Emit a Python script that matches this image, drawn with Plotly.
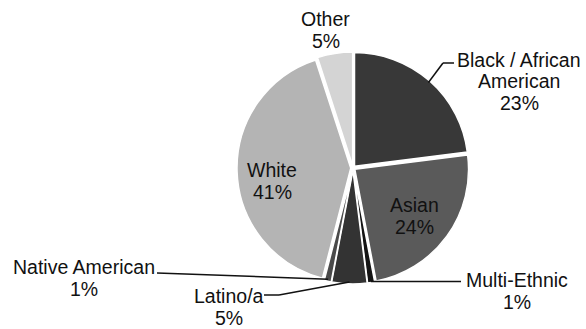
import math
import plotly.graph_objects as go

# Enrollment share by race / ethnicity, clockwise from 12 o'clock
groups = ["Black / African American", "Asian", "Multi-Ethnic", "Latino/a",
          "Native American", "White", "Other"]
shares = [23, 24, 1, 5, 1, 41, 5]
colors = ["#383838", "#5a5a5a", "#141414", "#333333", "#4a4a4a", "#b4b4b4", "#d4d4d4"]

W, H = 586, 329
CX, CY, R = 353, 168, 116          # pie centre and outer radius, in pixels
FONT = dict(family="Liberation Sans, Arial, sans-serif", size=19.5, color="#111111")
LINE_GAP = 21.5


def px(x, y):
    return x / W, 1 - y / H


fig = go.Figure(go.Pie(
    labels=groups,
    values=shares,
    sort=False,
    direction="clockwise",
    rotation=0,
    textinfo="none",
    hoverinfo="label+percent",
    pull=0.02,
    marker=dict(colors=colors, line=dict(color="white", width=1.5)),
    domain=dict(x=[(CX - R) / W, (CX + R) / W], y=[1 - (CY + R) / H, 1 - (CY - R) / H]),
    showlegend=False,
))

total = sum(shares)


def edge_point(i, r=R - 2):
    """Pixel point on the outer rim at the middle of slice i."""
    start = sum(shares[:i])
    theta = 2 * math.pi * (start + shares[i] / 2) / total
    return CX + r * math.sin(theta), CY - r * math.cos(theta)


def label(lines, x, y_first):
    for k, txt in enumerate(lines):
        ax, ay = px(x, y_first + k * LINE_GAP)
        fig.add_annotation(x=ax, y=ay, xref="paper", yref="paper", text=txt,
                           showarrow=False, font=FONT, xanchor="center", yanchor="middle")


def leader(points):
    for (x0, y0), (x1, y1) in zip(points[:-1], points[1:]):
        a0, b0 = px(x0, y0)
        a1, b1 = px(x1, y1)
        fig.add_shape(type="line", xref="paper", yref="paper", x0=a0, y0=b0, x1=a1, y1=b1,
                      line=dict(color="#111111", width=1.5))


def pct(i):
    return f"{round(100 * shares[i] / total)}%"


# Black / African American
label(["Black / African", "American", pct(0)], 519, 60)
leader([edge_point(0), (443, 63), (454, 63)])
# Asian (inside)
label(["Asian", pct(1)], 414, 205)
# Multi-Ethnic
label(["Multi-Ethnic", pct(2)], 517, 280)
mx, my = edge_point(2)
leader([(mx, my + 1), (461, my + 1)])
# Latino/a
label(["Latino/a", pct(3)], 229, 296)
leader([edge_point(3), (279, 295), (264, 295)])
# Native American
label(["Native American", pct(4)], 84, 267)
leader([edge_point(4), (157, 273)])
# White (inside)
label(["White", pct(5)], 272, 170)
# Other
label(["Other", pct(6)], 326, 19)

fig.update_layout(
    width=W, height=H,
    margin=dict(l=0, r=0, t=0, b=0),
    paper_bgcolor="white",
    plot_bgcolor="white",
)

fig.write_html("out.html")
